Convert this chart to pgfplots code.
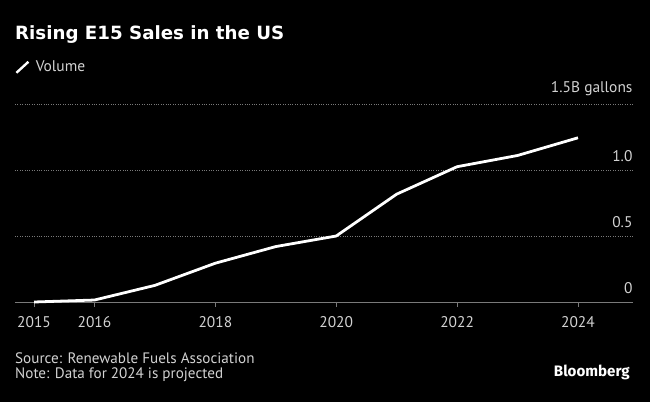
\documentclass[border=0pt]{standalone}
\usepackage{fontspec}
\setmainfont{PT Sans}
\newfontfamily\titlefont{DejaVu Sans}
\newfontfamily\brandfont{Fira Sans}
\usepackage{pgfplots}
\pgfplotsset{compat=1.18}
\definecolor{bg}{HTML}{000000}
\definecolor{lbl}{HTML}{D2D2D2}
\definecolor{gridc}{HTML}{7A7A7A}

\begin{document}
\begin{tikzpicture}[x=1bp,y=1bp]
% black page, 650 x 402
\fill[bg] (-15,-100) rectangle (635,302);
\begin{axis}[
    at={(0,0)}, anchor=south west,
    scale only axis,
    width=617bp, height=198bp,
    xmin=2014.685, xmax=2024.894,
    ymin=0, ymax=1.5,
    axis x line*=bottom,
    axis y line*=right,
    y axis line style={draw=none},
    x axis line style={gridc, line width=0.8pt},
    xtick={2015,2016,2018,2020,2022,2024},
    xticklabels={2015,2016,2018,2020,2022,2024},
    ytick={0,0.5,1,1.5},
    yticklabels={0,0.5,1.0,1.5B gallons},
    tick align=outside,
    major tick length=5bp,
    xtick style={gridc, line width=0.8pt},
    ytick style={draw=none},
    xticklabel style={font=\fontsize{15.5}{18}\selectfont, text=lbl, yshift=-6bp},
    yticklabel style={font=\fontsize{15.5}{18}\selectfont, text=lbl,
        anchor=south east, xshift=-1bp, yshift=5bp},
    ymajorgrids,
    grid style={gridc, dotted, line width=0.7pt},
    legend style={at={(0,1.23)}, anchor=north west, draw=none, fill=none,
        inner sep=0pt, text=lbl, font=\fontsize{15.5}{18}\selectfont},
    legend image code/.code={\draw[white, line width=2.4pt] (0bp,-6bp) -- (12bp,5bp);
        \path (16bp,0bp);},
    clip=false,
]
\addplot[white, line width=2.8pt, line join=round] coordinates {
    (2015,0.000) (2016,0.015) (2017,0.126) (2018,0.294) (2019,0.420)
    (2020,0.500) (2021,0.817) (2022,1.025) (2023,1.110) (2024,1.244)
};
\addlegendentry{Volume}
\end{axis}
\node[anchor=base west, inner sep=0, text=white, font=\titlefont\fontsize{18.3}{21}\selectfont\bfseries] at (0,263) {Rising E15 Sales in the US};
\node[anchor=base west, inner sep=0, text=lbl, font=\fontsize{15.2}{17}\selectfont] at (0,-61) {Source: Renewable Fuels Association};
\node[anchor=base west, inner sep=0, text=lbl, font=\fontsize{15.2}{17}\selectfont] at (0,-76) {Note: Data for 2024 is projected};
\node[anchor=base east, inner sep=0, text=white, font=\brandfont\fontsize{15.2}{17}\selectfont\bfseries] at (615,-74) {Bloomberg};
\end{tikzpicture}
\end{document}
